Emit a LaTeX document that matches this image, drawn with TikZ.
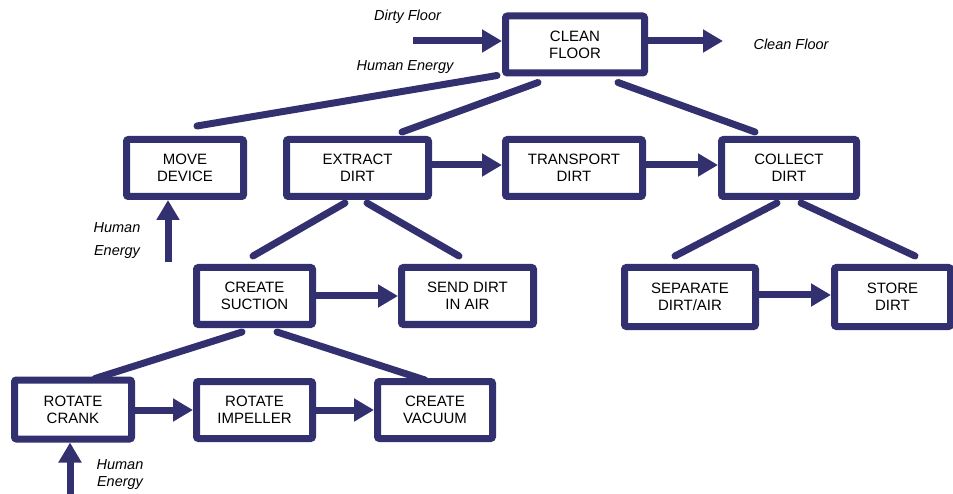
\documentclass[tikz,border=0pt]{standalone}
\usepackage{fontspec}
\setmainfont{Liberation Sans}
\usetikzlibrary{arrows.meta}
\definecolor{navy}{RGB}{51,48,112}
\tikzset{
    box/.style={draw=navy, line width=7pt, rounded corners=2pt, align=center,
        font=\fontsize{15}{17}\selectfont, inner sep=0pt, minimum height=57pt},
    link/.style={draw=navy, line width=7pt, line cap=round},
    flow/.style={draw=navy, line width=7pt, -{Triangle[length=20pt,width=22pt]}},
    lbl/.style={font=\fontsize{14.5}{16.5}\selectfont\itshape, inner sep=0pt}
}

\begin{document}
\begin{tikzpicture}[x=1pt, y=-1pt]
    \useasboundingbox (0,0) rectangle (953,494);

    % boxes
    \node[box, minimum width=139pt] (clean) at (575,44.5) {CLEAN\\FLOOR};
    \node[box, minimum width=117pt] (move) at (185,168) {MOVE\\DEVICE};
    \node[box, minimum width=142pt] (extract) at (357.5,168) {EXTRACT\\DIRT};
    \node[box, minimum width=137pt] (transport) at (574,168) {TRANSPORT\\DIRT};
    \node[box, minimum width=135pt] (collect) at (789,168) {COLLECT\\DIRT};
    \node[box, minimum width=116pt] (suction) at (254.5,296) {CREATE\\SUCTION};
    \node[box, minimum width=132pt] (send) at (467.5,296) {SEND DIRT\\IN AIR};
    \node[box, minimum width=131pt, minimum height=59pt] (separate) at (690,297) {SEPARATE\\DIRT/AIR};
    \node[box, minimum width=116pt, minimum height=59pt] (store) at (892.5,297) {STORE\\DIRT};
    \node[box, minimum width=117pt, minimum height=59pt] (crank) at (73,409.5) {ROTATE\\CRANK};
    \node[box, minimum width=116pt] (impeller) at (254.5,410) {ROTATE\\IMPELLER};
    \node[box, minimum width=115pt] (vacuum) at (435,410) {CREATE\\VACUUM};

    % texts
    \node[lbl] (dirty) at (407.5,17) {Dirty Floor};
    \node[lbl] (energy) at (405,67) {Human Energy};
    \node[lbl] (cleaned) at (791,44) {Clean Floor};
    \node[lbl] (human1) at (117,228) {Human};
    \node[lbl] (energy1) at (117,252) {Energy};
    \node[lbl] (human2) at (120,465) {Human};
    \node[lbl] (energy2) at (120,483) {Energy};

    % free ends
    \coordinate (dirtyin) at (413,41);
    \coordinate (cleanout) at (723,41);
    \coordinate (handin) at (168,262);
    \coordinate (crankin) at (70,494);

    % tree
    \draw[link] ([xshift=-78pt,yshift=1pt]clean.south) -- ([xshift=12pt,yshift=10pt]move.north);
    \draw[link] ([xshift=-37pt,yshift=-6pt]clean.south) -- ([xshift=44.5pt,yshift=4pt]extract.north);
    \draw[link] ([xshift=43pt,yshift=-6pt]clean.south) -- ([xshift=-34pt,yshift=4pt]collect.north);
    \draw[link] ([xshift=-12.5pt,yshift=-3pt]extract.south) -- ([xshift=-1.5pt,yshift=8pt]suction.north);
    \draw[link] ([xshift=9.5pt,yshift=-3pt]extract.south) -- ([xshift=-8.5pt,yshift=8pt]send.north);
    \draw[link] ([xshift=-12pt,yshift=-3pt]collect.south) -- ([xshift=-15pt,yshift=8pt]separate.north);
    \draw[link] ([xshift=12pt,yshift=-3pt]collect.south) -- ([xshift=22.5pt,yshift=8pt]store.north);
    \draw[link] ([xshift=-12.5pt,yshift=-4pt]suction.south) -- ([xshift=22pt,yshift=-2pt]crank.north);
    \draw[link] ([xshift=22.5pt,yshift=-4pt]suction.south) -- ([xshift=-10pt,yshift=-2pt]vacuum.north);

    % flows
    \draw[flow] (dirtyin) -- (clean.west |- dirtyin);
    \draw[flow] (clean.east |- cleanout) -- (cleanout);
    \draw[flow] ([yshift=3pt]extract.east) -- ([yshift=3pt]transport.west);
    \draw[flow] ([yshift=3pt]transport.east) -- ([yshift=3pt]collect.west);
    \draw[flow] (suction.east) -- (send.west);
    \draw[flow] ([yshift=2pt]separate.east) -- ([yshift=2pt]store.west);
    \draw[flow] (crank.east |- impeller.west) -- (impeller.west);
    \draw[flow] (impeller.east) -- (vacuum.west);
    \draw[flow] (handin) -- (handin |- move.south);
    \draw[flow] (crankin) -- (crankin |- crank.south);
\end{tikzpicture}
\end{document}
